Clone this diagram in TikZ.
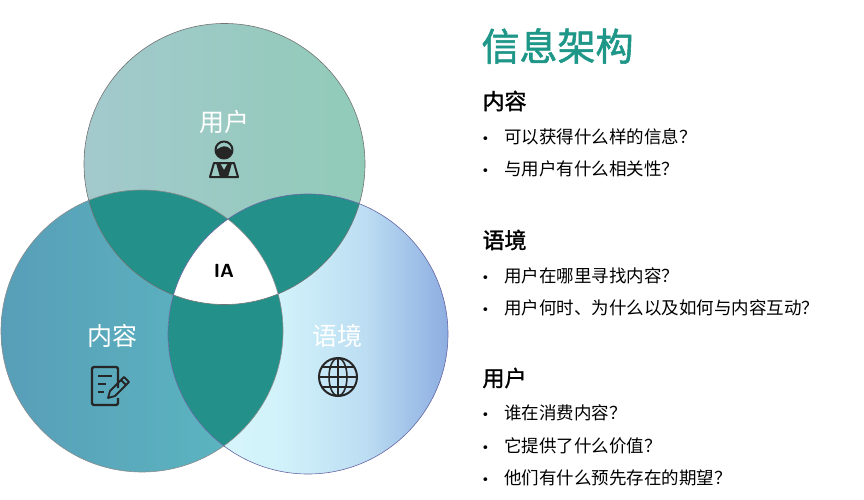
\documentclass[tikz,border=0pt]{standalone}
\usepackage{fontspec}
\setmainfont{Noto Sans CJK SC}
\newfontfamily\cjkb[FakeBold=1.5]{Noto Sans CJK SC}
\newfontfamily\dv{DejaVu Sans}
\usetikzlibrary{shadings}
\definecolor{teal1}{HTML}{23918A}
\definecolor{titlec}{HTML}{1E9688}
\pgfdeclarehorizontalshading{rsh}{100bp}{rgb(0bp)=(0.86,0.97,0.99); rgb(25bp)=(0.86,0.97,0.99); rgb(45bp)=(0.82,0.95,0.98); rgb(60bp)=(0.74,0.87,0.95); rgb(75bp)=(0.55,0.68,0.88); rgb(100bp)=(0.55,0.68,0.88)}
\begin{document}
\begin{tikzpicture}[x=1pt,y=-1pt,
  bul/.style={anchor=west,font=\fontsize{17.5}{20}\selectfont},
  head/.style={anchor=west,font=\cjkb\fontsize{22}{24}\selectfont},
  clab/.style={text=white,font=\fontsize{25}{28}\selectfont},
  icon/.style={draw=black!85,line width=2.2pt,line join=round}]
\useasboundingbox (0,0) rectangle (864,500);
\def\top{(224.5,164) circle (140.5)}
\def\lef{(142,331) circle (141)}
\def\rig{(308,334) circle (140)}
\newcommand\bl{{\dv\fontsize{13}{13}\selectfont •}\hspace{15pt}}
\shade[left color={rgb,255:red,163;green,201;blue,205}, right color={rgb,255:red,145;green,203;blue,184}] \top;
\shade[left color={rgb,255:red,88;green,158;blue,184}, right color={rgb,255:red,92;green,186;blue,194}] \lef;
\shade[shading=rsh] \rig;
\begin{scope}\clip \top; \fill[teal1] \lef; \fill[teal1] \rig; \end{scope}
\begin{scope}\clip \lef; \fill[teal1] \rig; \end{scope}
\begin{scope}\clip \top; \clip \lef; \fill[white] \rig; \end{scope}
\draw[black!55,line width=0.6pt] \top;
\draw[black!45,line width=0.6pt] \lef;
\draw[blue!40!black!60,line width=0.6pt] \rig;
\node[font=\sffamily\bfseries\fontsize{19}{22}\selectfont] (ia) at (224,271) {IA};
\node[clab] (u) at (224,122) {用户};
\node[clab] (c) at (112,336) {内容};
\node[clab] (y) at (337,336) {语境};
% user icon
\draw[icon,line width=2pt] (224,150) circle (8.5);
\fill[black!85] (215.5,150) arc (180:0:8.5) -- (231,150) .. controls (226,144) and (222,146) .. (216,150) -- cycle;
\draw[icon,line width=2pt] (210,177) -- (214,163) -- (234,163) -- (238,177) -- cycle;
\fill[black!85] (216,163) -- (220,177) -- (228,177) -- (232,163) -- (228,163) -- (224,170) -- (220,163) -- cycle;
% doc icon
\draw[icon,rounded corners=1.5pt] (118,388) -- (118,367) -- (92,367) -- (92,405) -- (118,405) -- (118,398);
\draw[icon,line width=1.8pt] (98,376) -- (112,376) (98,384) -- (106,384) (98,392) -- (104,392);
\draw[icon,line width=1.8pt] (108,398) -- (110,391) -- (124,377) -- (129,382) -- (115,396) -- cycle (121,380) -- (126,385);
% globe
\draw[icon,line width=2pt] (338,377) circle (19);
\draw[icon,line width=1.6pt] (338,358) -- (338,396) (319,377) -- (357,377) (322,367) -- (354,367) (322,387) -- (354,387);
\draw[icon,line width=1.6pt] (338,377) ellipse (9 and 19);
% right text
\node[anchor=west,text=titlec,font=\cjkb\fontsize{38}{42}\selectfont] (t) at (478,46) {信息架构};
\node[head] (h1) at (479,101) {内容};
\node[bul] (b1) at (478,137) {\bl 可以获得什么样的信息？};
\node[bul] (b2) at (478,169) {\bl 与用户有什么相关性？};
\node[head] (h2) at (479,240) {语境};
\node[bul] (b3) at (478,276) {\bl 用户在哪里寻找内容？};
\node[bul] (b4) at (478,308) {\bl 用户何时、为什么以及如何与内容互动？};
\node[head] (h3) at (479,378) {用户};
\node[bul] (b5) at (478,413) {\bl 谁在消费内容？};
\node[bul] (b6) at (478,446) {\bl 它提供了什么价值？};
\node[bul] (b7) at (478,478) {\bl 他们有什么预先存在的期望？};
\end{tikzpicture}
\end{document}
